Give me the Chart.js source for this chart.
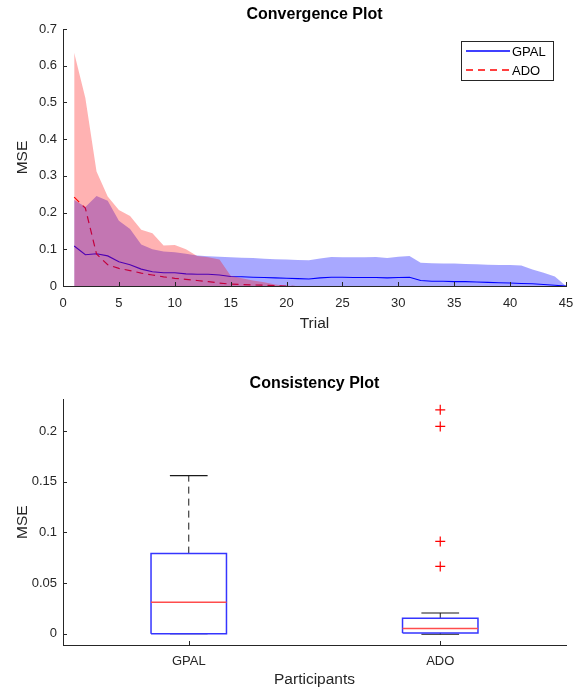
<!DOCTYPE html>
<html>
<head>
<meta charset="utf-8">
<script src="https://cdn.jsdelivr.net/npm/chart.js@4"></script>
<style>
  html, body { margin: 0; padding: 0; background: #fff; }
  .wrap { position: absolute; left: 0; width: 576px; }
</style>
</head>
<body>
<div class="wrap" style="top:0;height:345px"><canvas id="convChart" width="576" height="345"></canvas></div>
<div class="wrap" style="top:345px;height:347px"><canvas id="consChart" width="576" height="347"></canvas></div>
<script>
// ---- convergence plot data (MSE per trial) ----
const trials = [1, 2, 3, 4, 5, 6, 7, 8, 9, 10, 11, 12, 13, 14, 15, 16, 17, 18, 19, 20, 21, 22, 23,
  24, 25, 26, 27, 28, 29, 30, 31, 32, 33, 34, 35, 36, 37, 38, 39, 40, 41, 42, 43, 44, 45];

const gpalMean = [0.109, 0.085, 0.088, 0.082, 0.066, 0.058, 0.046, 0.039, 0.036, 0.036,
  0.033, 0.032, 0.032, 0.030, 0.026, 0.025, 0.024, 0.023, 0.022, 0.021,
  0.020, 0.019, 0.022, 0.024, 0.024, 0.023, 0.023, 0.023, 0.022, 0.023,
  0.024, 0.015, 0.013, 0.013, 0.012, 0.012, 0.011, 0.010, 0.009, 0.008,
  0.007, 0.006, 0.004, 0.002, 0.000];
const gpalUpper = [0.235, 0.215, 0.245, 0.232, 0.178, 0.155, 0.113, 0.100, 0.094, 0.092,
  0.088, 0.083, 0.081, 0.080, 0.078, 0.077, 0.076, 0.074, 0.073, 0.072,
  0.071, 0.070, 0.075, 0.079, 0.078, 0.078, 0.078, 0.079, 0.076, 0.080,
  0.082, 0.063, 0.062, 0.061, 0.061, 0.060, 0.059, 0.058, 0.057, 0.057,
  0.056, 0.045, 0.036, 0.026, 0.000];

const adoMean = [0.242, 0.212, 0.087, 0.058, 0.048, 0.042, 0.035, 0.030, 0.025, 0.021,
  0.018, 0.015, 0.012, 0.008, 0.005, 0.004, 0.003, 0.002, 0.001, 0.000, -0.002];
const adoUpper = [0.635, 0.512, 0.312, 0.244, 0.207, 0.191, 0.153, 0.144, 0.110, 0.112,
  0.100, 0.082, 0.078, 0.072, 0.028, 0.021, 0.015, 0.010, 0.004, 0.001, 0.000];

// ---- consistency plot data (box stats per participant group) ----
const groups = ['GPAL', 'ADO'];
const whiskLo = [0.000, -0.0006];
const q1 = [0.000, 0.0007];
const median = [0.031, 0.0052];
const q3 = [0.079, 0.0151];
const whiskHi = [0.156, 0.0204];
const outliers = [[], [0.2209, 0.2045, 0.0910, 0.0664]];

const FONT = "'Liberation Sans', Arial, Helvetica, sans-serif";
const AXIS = '#262626';
const GPAL_COLOR = '#0000ff';
const ADO_COLOR = '#ff0000';
const ADO_DASH = [7, 5];

const toXY = (xs, ys) => ys.map((y, i) => ({ x: xs[i], y }));
const fmt = v => String(Math.round(v * 1000) / 1000);

// matlab style ticks pointing into the axes
const insideTicks = {
  id: 'insideTicks',
  afterDatasetsDraw(chart) {
    const { ctx, chartArea, scales } = chart;
    ctx.save();
    ctx.strokeStyle = AXIS;
    ctx.lineWidth = 1;
    scales.x.ticks.forEach(t => {
      const px = Math.round(scales.x.getPixelForValue(t.value)) + 0.5;
      ctx.beginPath();
      ctx.moveTo(px, chartArea.bottom);
      ctx.lineTo(px, chartArea.bottom - 4);
      ctx.stroke();
    });
    scales.y.ticks.forEach(t => {
      const py = Math.round(scales.y.getPixelForValue(t.value)) + 0.5;
      ctx.beginPath();
      ctx.moveTo(chartArea.left, py);
      ctx.lineTo(chartArea.left + 4, py);
      ctx.stroke();
    });
    ctx.restore();
  }
};

// legend box in the top right corner of the plot area
const legendItems = [
  { text: 'GPAL', color: GPAL_COLOR, width: 1.3, dash: [] },
  { text: 'ADO', color: ADO_COLOR, width: 1.3, dash: ADO_DASH }
];
const boxLegend = {
  id: 'boxLegend',
  afterDraw(chart) {
    const { ctx, chartArea } = chart;
    const w = 92, h = 39;
    const x = Math.round(chartArea.right - 13 - w), y = Math.round(chartArea.top + 12);
    ctx.save();
    ctx.fillStyle = '#fff';
    ctx.fillRect(x, y, w, h);
    ctx.strokeStyle = AXIS;
    ctx.lineWidth = 1;
    ctx.strokeRect(x + 0.5, y + 0.5, w, h);
    ctx.font = '13px ' + FONT;
    ctx.textBaseline = 'middle';
    legendItems.forEach((it, i) => {
      const ly = y + 10 + i * 19;
      ctx.strokeStyle = it.color;
      ctx.lineWidth = it.width;
      ctx.setLineDash(it.dash);
      ctx.beginPath();
      ctx.moveTo(x + 5, ly);
      ctx.lineTo(x + 49, ly);
      ctx.stroke();
      ctx.fillStyle = '#000';
      ctx.fillText(it.text, x + 51, ly + 1.5);
    });
    ctx.restore();
  }
};

const tickFont = { family: FONT, size: 13 };
const titleFont = { family: FONT, size: 15.5 };
const headFont = { family: FONT, size: 16, weight: 'bold' };

new Chart(document.getElementById('convChart'), {
  type: 'line',
  data: {
    datasets: [
      { label: 'ADO band', data: toXY(trials, adoUpper), borderColor: 'transparent', borderWidth: 0,
        backgroundColor: 'rgba(255,0,0,0.3)', fill: 'origin', pointRadius: 0 },
      { label: 'GPAL band', data: toXY(trials, gpalUpper), borderColor: 'transparent', borderWidth: 0,
        backgroundColor: 'rgba(0,0,255,0.34)', fill: 'origin', pointRadius: 0 },
      { label: 'ADO', data: toXY(trials, adoMean), borderColor: ADO_COLOR, borderWidth: 1.2,
        borderDash: ADO_DASH, fill: false, pointRadius: 0 },
      { label: 'GPAL', data: toXY(trials, gpalMean), borderColor: GPAL_COLOR, borderWidth: 1.1,
        fill: false, pointRadius: 0 }
    ]
  },
  options: {
    responsive: false,
    animation: false,
    layout: { padding: { left: 0, right: 10, top: 0, bottom: 0 } },
    plugins: {
      legend: { display: false },
      tooltip: { enabled: false },
      title: {
        display: true, text: 'Convergence Plot', color: '#000', fullSize: false,
        font: headFont, padding: { top: 5.4, bottom: 4.4 }
      }
    },
    scales: {
      x: {
        type: 'linear', min: 0, max: 45,
        grid: { display: false, drawTicks: true, tickLength: 10 },
        border: { display: true, color: AXIS, width: 1 },
        ticks: { stepSize: 5, color: AXIS, font: tickFont, padding: 0, maxRotation: 0, callback: fmt },
        title: { display: true, text: 'Trial', color: AXIS, font: titleFont, padding: { top: 0, bottom: 11.7 } },
        afterFit: s => { s.height = 59; }
      },
      y: {
        min: 0, max: 0.7,
        grid: { display: false, drawTicks: false },
        border: { display: true, color: AXIS, width: 1 },
        ticks: { stepSize: 0.1, color: AXIS, font: tickFont, padding: 6, callback: fmt },
        title: { display: true, text: 'MSE', color: AXIS, font: titleFont, padding: { top: 13.2, bottom: 0 } },
        afterFit: s => { s.width = 63; }
      }
    }
  },
  plugins: [insideTicks, boxLegend]
});

// ---- box plot built from line datasets on a linear axis ----
const BOX_HALF = 0.15, CAP_HALF = 0.075;
const boxPts = [], medPts = [], whiskPts = [], capPts = [], outPts = [];
groups.forEach((g, i) => {
  const c = i + 1;
  boxPts.push({ x: c - BOX_HALF, y: q1[i] }, { x: c + BOX_HALF, y: q1[i] }, { x: c + BOX_HALF, y: q3[i] },
    { x: c - BOX_HALF, y: q3[i] }, { x: c - BOX_HALF, y: q1[i] }, { x: c, y: null });
  medPts.push({ x: c - BOX_HALF, y: median[i] }, { x: c + BOX_HALF, y: median[i] }, { x: c, y: null });
  whiskPts.push({ x: c, y: q3[i] }, { x: c, y: whiskHi[i] }, { x: c, y: null },
    { x: c, y: q1[i] }, { x: c, y: whiskLo[i] }, { x: c, y: null });
  capPts.push({ x: c - CAP_HALF, y: whiskHi[i] }, { x: c + CAP_HALF, y: whiskHi[i] }, { x: c, y: null },
    { x: c - CAP_HALF, y: whiskLo[i] }, { x: c + CAP_HALF, y: whiskLo[i] }, { x: c, y: null });
  outliers[i].forEach(v => outPts.push({ x: c, y: v }));
});

new Chart(document.getElementById('consChart'), {
  type: 'line',
  data: {
    datasets: [
      { label: 'Outliers', data: outPts, showLine: false, pointStyle: 'cross', pointRadius: 5,
        pointBorderColor: '#ff0000', pointBorderWidth: 1.2, borderColor: '#ff0000' },
      { label: 'Median', data: medPts, borderColor: '#ff4d4d', borderWidth: 1.5, pointRadius: 0, spanGaps: false },
      { label: 'Box', data: boxPts, borderColor: '#3535ff', borderWidth: 1.5, pointRadius: 0, spanGaps: false },
      { label: 'Caps', data: capPts, borderColor: '#1a1a1a', borderWidth: 1.2, pointRadius: 0, spanGaps: false },
      { label: 'Whiskers', data: whiskPts, borderColor: '#1a1a1a', borderWidth: 1, borderDash: [7, 5],
        pointRadius: 0, spanGaps: false }
    ]
  },
  options: {
    responsive: false,
    animation: false,
    layout: { padding: { left: 0, right: 10, top: 0, bottom: 0 } },
    plugins: {
      legend: { display: false },
      tooltip: { enabled: false },
      title: {
        display: true, text: 'Consistency Plot', color: '#000', fullSize: false,
        font: headFont, padding: { top: 29.4, bottom: 5.7 }
      }
    },
    scales: {
      x: {
        type: 'linear', min: 0.5, max: 2.5,
        grid: { display: false, drawTicks: true, tickLength: 9 },
        border: { display: true, color: AXIS, width: 1 },
        afterBuildTicks: s => { s.ticks = groups.map((g, i) => ({ value: i + 1 })); },
        ticks: { color: AXIS, font: tickFont, padding: 0, maxRotation: 0,
          callback: v => groups[Math.round(v) - 1] },
        title: { display: true, text: 'Participants', color: AXIS, font: titleFont, padding: { top: 0, bottom: 2.7 } },
        afterFit: s => { s.height = 47; }
      },
      y: {
        min: -0.0112, max: 0.2313,
        grid: { display: false, drawTicks: false },
        border: { display: true, color: AXIS, width: 1 },
        afterBuildTicks: s => { s.ticks = [0, 0.05, 0.1, 0.15, 0.2].map(v => ({ value: v })); },
        ticks: { color: AXIS, font: tickFont, padding: 6, callback: fmt },
        title: { display: true, text: 'MSE', color: AXIS, font: titleFont, padding: { top: 13.2, bottom: 0 } },
        afterFit: s => { s.width = 63; }
      }
    }
  },
  plugins: [insideTicks]
});
</script>
</body>
</html>
